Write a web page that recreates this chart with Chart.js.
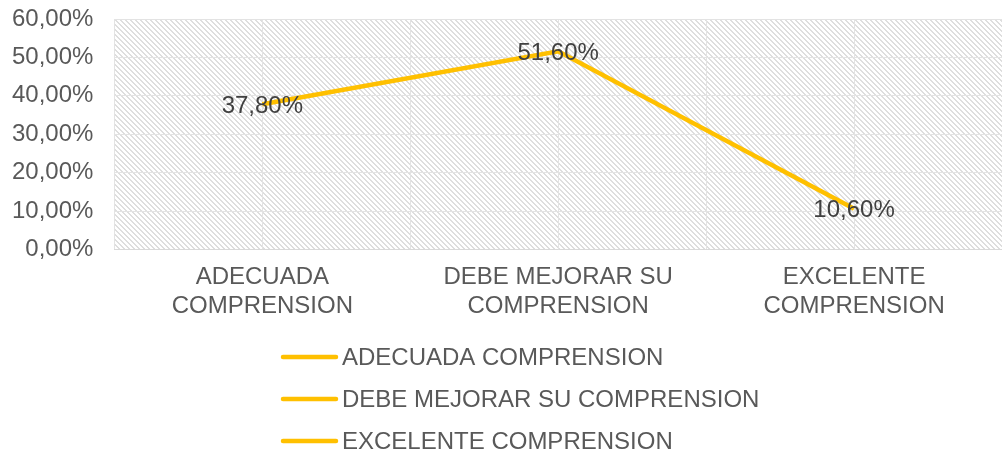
<!DOCTYPE html>
<html>
<head>
<meta charset="utf-8">
<script src="https://cdn.jsdelivr.net/npm/chart.js@4/dist/chart.umd.min.js"></script>
<style>
  html, body { margin: 0; padding: 0; background: #fff; }
  #wrap { width: 1002px; height: 452px; position: relative; }
</style>
</head>
<body>
<div id="wrap"><canvas id="grafico"></canvas></div>
<script>
// datos
var categorias = [
    ["ADECUADA", "COMPRENSION"],
    ["DEBE MEJORAR SU", "COMPRENSION"],
    ["EXCELENTE", "COMPRENSION"]
];
var leyenda = ["ADECUADA COMPRENSION", "DEBE MEJORAR SU COMPRENSION", "EXCELENTE COMPRENSION"];
var porcentajes = [37.8, 51.6, 10.6];
var ticksY = [0, 10, 20, 30, 40, 50, 60];

var amarillo = "#FFC000";
var fuente = "'Liberation Sans', Arial, sans-serif";

function formato(v) {
    return v.toFixed(2).replace('.', ',') + '%';
}

// fondo rayado del area de trazado
var fondoRayado = {
    id: 'fondoRayado',
    beforeDraw: function(chart) {
        var ctx = chart.ctx, a = chart.chartArea;
        var tile = document.createElement('canvas');
        tile.width = 5; tile.height = 5;
        var t = tile.getContext('2d');
        t.fillStyle = '#ffffff';
        t.fillRect(0, 0, 5, 5);
        t.fillStyle = '#dedede';
        for (var i = 0; i < 5; i++) {
            t.fillRect(i, i, 1, 1);
            t.fillRect((i + 1) % 5, i, 1, 1);
        }
        ctx.save();
        ctx.fillStyle = ctx.createPattern(tile, 'repeat');
        ctx.fillRect(a.left, a.top, a.right - a.left, a.bottom - a.top);
        ctx.restore();
    },
    beforeDatasetsDraw: function(chart) {
        // lineas verticales en el centro de cada categoria
        var ctx = chart.ctx, a = chart.chartArea, x = chart.scales.x;
        ctx.save();
        ctx.strokeStyle = '#e3e3e3';
        ctx.lineWidth = 1;
        for (var i = 0; i < categorias.length; i++) {
            var px = Math.round(x.getPixelForTick(i)) + 0.5;
            ctx.beginPath();
            ctx.moveTo(px, a.top);
            ctx.lineTo(px, a.bottom);
            ctx.stroke();
        }
        ctx.restore();
    }
};

// etiquetas de datos centradas sobre cada punto
var etiquetas = {
    id: 'etiquetas',
    afterDatasetsDraw: function(chart) {
        var ctx = chart.ctx;
        var meta = chart.getDatasetMeta(0);
        ctx.save();
        ctx.font = '24px ' + fuente;
        ctx.fillStyle = '#404040';
        ctx.textAlign = 'center';
        ctx.textBaseline = 'middle';
        meta.data.forEach(function(p, i) {
            ctx.fillText(formato(porcentajes[i]), p.x, p.y + 2);
        });
        ctx.restore();
    }
};

// leyenda vertical (una entrada por fila)
var leyendaVertical = {
    id: 'leyendaVertical',
    afterDraw: function(chart) {
        var ctx = chart.ctx;
        var x0 = chart.width / 2 - 218;
        var y0 = chart.height - 95;
        ctx.save();
        ctx.font = '24px ' + fuente;
        ctx.textBaseline = 'middle';
        ctx.textAlign = 'left';
        leyenda.forEach(function(txt, i) {
            var y = y0 + i * 42;
            ctx.strokeStyle = amarillo;
            ctx.lineWidth = 4.5;
            ctx.lineCap = 'round';
            ctx.beginPath();
            ctx.moveTo(x0, y);
            ctx.lineTo(x0 + 53, y);
            ctx.stroke();
            ctx.fillStyle = '#595959';
            ctx.fillText(txt, x0 + 59, y + 1);
        });
        ctx.restore();
    }
};

var ctx = document.getElementById('grafico').getContext('2d');
var grafico = new Chart(ctx, {
    type: 'line',
    data: {
        labels: categorias,
        datasets: [{
            label: 'Serie',
            data: porcentajes,
            borderColor: amarillo,
            backgroundColor: amarillo,
            borderWidth: 4.5,
            pointRadius: 0,
            tension: 0
        }]
    },
    options: {
        responsive: true,
        maintainAspectRatio: false,
        animation: false,
        layout: { padding: { top: 19, right: -6, bottom: 117, left: -9 } },
        plugins: {
            legend: { display: false },
            tooltip: { enabled: false }
        },
        scales: {
            x: {
                offset: true,
                grid: { offset: true, color: '#e3e3e3', drawTicks: false },
                border: { color: '#d9d9d9' },
                ticks: {
                    color: '#595959',
                    font: { family: fuente, size: 24 },
                    padding: 14,
                    maxRotation: 0,
                    autoSkip: false
                }
            },
            y: {
                min: 0,
                max: 60,
                afterBuildTicks: function(axis) {
                    axis.ticks = ticksY.map(function(v) { return { value: v }; });
                },
                afterFit: function(axis) {
                    axis.paddingTop = 0;
                    axis.paddingBottom = 0;
                },
                grid: { color: '#e3e3e3', drawTicks: false },
                border: { display: false },
                ticks: {
                    color: '#595959',
                    font: { family: fuente, size: 24 },
                    padding: 21,
                    callback: function(v) { return formato(v); }
                }
            }
        }
    },
    plugins: [fondoRayado, etiquetas, leyendaVertical]
});
</script>
</body>
</html>
